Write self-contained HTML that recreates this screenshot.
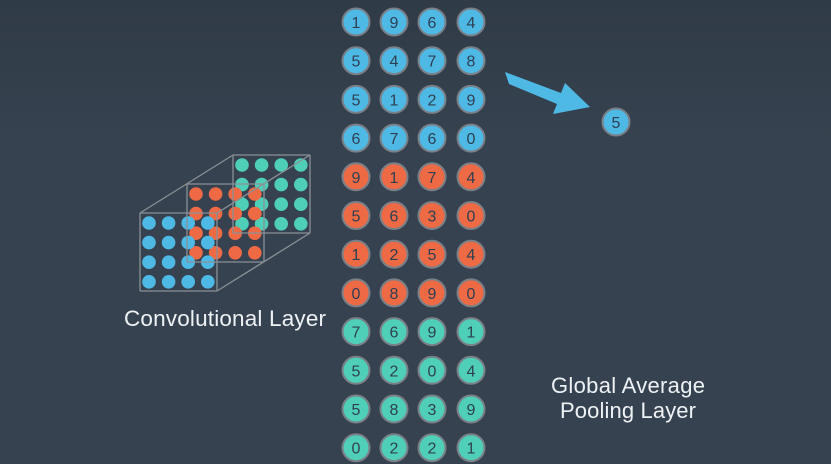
<!DOCTYPE html>
<html><head><meta charset="utf-8"><style>
html,body{margin:0;padding:0;width:831px;height:464px;overflow:hidden;background:#36424f}
svg{display:block}
text{font-family:"Liberation Sans",sans-serif}
</style></head><body>
<svg id="s" width="831" height="464" viewBox="0 0 831 464">
<defs><linearGradient id="bg" x1="0" y1="0" x2="0" y2="1"><stop offset="0" stop-color="#303b47"/><stop offset="0.3" stop-color="#36424f"/><stop offset="1" stop-color="#36424f"/></linearGradient></defs>
<rect width="831" height="464" fill="url(#bg)"/>
<g id="cube"></g>
<g id="grid"></g>
<polygon points="505,72 561,93 565,83 590,107 553,114 557,104 509,84" fill="#4fb9e6"/>
<circle cx="616" cy="122" r="13.5" fill="#4fb9e6" stroke="#7a8088" stroke-width="2"/>
<text x="616" y="128" text-anchor="middle" font-size="16" fill="#2e3f52">5</text>
<text x="225" y="326" text-anchor="middle" font-size="22.5" fill="#eef2f5" textLength="202">Convolutional Layer</text>
<text x="628" y="393" text-anchor="middle" font-size="22" fill="#eef2f5" textLength="154">Global Average</text>
<text x="628" y="418" text-anchor="middle" font-size="22" fill="#eef2f5" textLength="136">Pooling Layer</text>
</svg>
<script>
const values=[[1,9,6,4],[5,4,7,8],[5,1,2,9],[6,7,6,0],[9,1,7,4],[5,6,3,0],[1,2,5,4],[0,8,9,0],[7,6,9,1],[5,2,0,4],[5,8,3,9],[0,2,2,1]];
const colors=['#4fb9e6','#ee6a45','#4fcfb8'];
const NS='http://www.w3.org/2000/svg';
const grid=document.getElementById('grid');
const xs=[356,394,432,471];
values.forEach((row,r)=>{
  const y=22+r*38.7;
  const col=colors[Math.floor(r/4)];
  row.forEach((v,c)=>{
    const ci=document.createElementNS(NS,'circle');
    ci.setAttribute('cx',xs[c]);ci.setAttribute('cy',y);ci.setAttribute('r',13.5);
    ci.setAttribute('fill',col);ci.setAttribute('stroke','#7a8088');ci.setAttribute('stroke-width',2);
    
    
    grid.appendChild(ci);
    const t=document.createElementNS(NS,'text');
    t.setAttribute('x',xs[c]);t.setAttribute('y',y+6);t.setAttribute('text-anchor','middle');
    t.setAttribute('font-size',16);t.setAttribute('fill','#2e3f52');t.textContent=v;
    
    
    grid.appendChild(t);
  });
});
const cube=document.getElementById('cube');
const layers=[{x:233,y:155,c:'#4fcfb8'},{x:187,y:184,c:'#ee6a45'},{x:140,y:213,c:'#4fb9e6'}];
function line(x1,y1,x2,y2){const l=document.createElementNS(NS,'line');l.setAttribute('x1',x1);l.setAttribute('y1',y1);l.setAttribute('x2',x2);l.setAttribute('y2',y2);l.setAttribute('stroke','#8a9096');l.setAttribute('stroke-width',1.3);


cube.appendChild(l);}
layers.forEach(L=>{
  for(let i=0;i<4;i++)for(let j=0;j<4;j++){
    const d=document.createElementNS(NS,'circle');
    d.setAttribute('cx',L.x+9+j*19.6);d.setAttribute('cy',L.y+10+i*19.6);d.setAttribute('r',6.8);d.setAttribute('fill',L.c);
    
    
    cube.appendChild(d);
  }
});
layers.forEach(L=>{const w=77,h=78;line(L.x,L.y,L.x+w,L.y);line(L.x+w,L.y,L.x+w,L.y+h);line(L.x+w,L.y+h,L.x,L.y+h);line(L.x,L.y+h,L.x,L.y);});
line(140,213,233,155);line(217,213,310,155);line(217,291,310,233);
</script>
</body></html>
